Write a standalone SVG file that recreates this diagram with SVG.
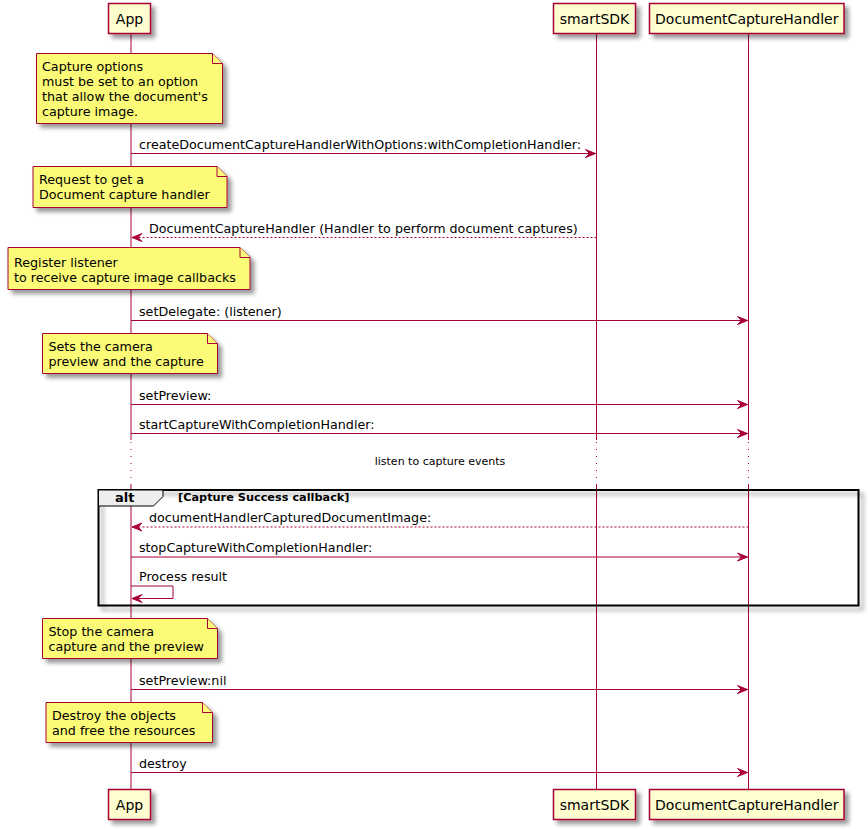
<svg xmlns="http://www.w3.org/2000/svg" width="868" height="829" viewBox="0 0 868 829">
<defs>
<filter id="sh" x="-1" y="-1" width="300%" height="300%">
<feGaussianBlur result="b" stdDeviation="2"/>
<feColorMatrix in="b" result="b2" type="matrix" values="0 0 0 0 0 0 0 0 0 0 0 0 0 0 0 0 0 0 .4 0"/>
<feOffset dx="4" dy="4" in="b2" result="b3"/>
<feBlend in="SourceGraphic" in2="b3" mode="normal"/>
</filter>
<marker id="ah" viewBox="-1 -1 12 10" refX="10" refY="4" markerWidth="12" markerHeight="10" markerUnits="userSpaceOnUse" orient="auto">
<polygon points="0,0 10,4 0,8 4,4" fill="#A80036" stroke="#A80036" stroke-width="1"/>
</marker>
</defs>
<style>
text{font-family:"DejaVu Sans",sans-serif;fill:#000}
.p rect{fill:#FEFECE;stroke:#A80036;stroke-width:1.5}
.p text{font-size:14px;text-anchor:middle}
.n path{fill:#FBFB77;stroke:#A80036;stroke-width:1}
.n text{font-size:12.7px}
.ll{stroke:#A80036;stroke-width:1;fill:none}
.dl{stroke:#A80036;stroke-width:1;stroke-dasharray:1,6;fill:none}
.m{stroke:#A80036;stroke-width:1;fill:none;marker-end:url(#ah)}
.d{stroke-dasharray:2,2}
.mt{font-size:12.7px}
</style>
<g id="lifelines">
<path class="ll" d="M131,34V440M131,485V789M596.5,34V440M596.5,485V789M748.5,34V440M748.5,485V789"/>
<path class="dl" d="M131,442V485M596.5,442V485M748.5,442V485"/>
</g>
<g id="p-app-top" class="p"><rect x="108.5" y="3.5" width="42" height="30" filter="url(#sh)"/><text x="129.5" y="23.5">App</text></g>
<g id="p-sdk-top" class="p"><rect x="553.5" y="3.5" width="82" height="30" filter="url(#sh)"/><text x="594.5" y="23.5">smartSDK</text></g>
<g id="p-dch-top" class="p"><rect x="649.5" y="3.5" width="194.5" height="30" filter="url(#sh)"/><text x="746.75" y="23.5">DocumentCaptureHandler</text></g>
<g id="p-app-bot" class="p"><rect x="108.5" y="789.5" width="42" height="30" filter="url(#sh)"/><text x="129.5" y="809.5">App</text></g>
<g id="p-sdk-bot" class="p"><rect x="553.5" y="789.5" width="82" height="30" filter="url(#sh)"/><text x="594.5" y="809.5">smartSDK</text></g>
<g id="p-dch-bot" class="p"><rect x="649.5" y="789.5" width="194.5" height="30" filter="url(#sh)"/><text x="746.75" y="809.5">DocumentCaptureHandler</text></g>

<g id="note1" class="n"><path d="M36.5,53.5V123.5H222.5V63.5L212.5,53.5Z" filter="url(#sh)"/><path d="M212.5,53.5V63.5H222.5"/>
<text x="42" y="70.5">Capture options</text><text x="42" y="85.6">must be set to an option</text><text x="42" y="100.7">that allow the document's</text><text x="42" y="115.8">capture image.</text></g>
<g id="note2" class="n"><path d="M33,166.5V207.5H227V176.5L217,166.5Z" filter="url(#sh)"/><path d="M217,166.5V176.5H227"/>
<text x="39" y="183.5">Request to get a</text><text x="39" y="198.6">Document capture handler</text></g>
<g id="note3" class="n"><path d="M8,247.5V289.5H250V257.5L240,247.5Z" filter="url(#sh)"/><path d="M240,247.5V257.5H250"/>
<text x="14" y="266.5">Register listener</text><text x="14" y="281.6">to receive capture image callbacks</text></g>
<g id="note4" class="n"><path d="M42.5,333.5V373.5H217.5V343.5L207.5,333.5Z" filter="url(#sh)"/><path d="M207.5,333.5V343.5H217.5"/>
<text x="48.5" y="350.5">Sets the camera</text><text x="48.5" y="365.6">preview and the capture</text></g>
<g id="note5" class="n"><path d="M42.5,618.5V658.5H217.5V628.5L207.5,618.5Z" filter="url(#sh)"/><path d="M207.5,618.5V628.5H217.5"/>
<text x="48.5" y="636">Stop the camera</text><text x="48.5" y="651.1">capture and the preview</text></g>
<g id="note6" class="n"><path d="M46,702.5V742.5H212.5V712.5L202.5,702.5Z" filter="url(#sh)"/><path d="M202.5,702.5V712.5H212.5"/>
<text x="52" y="719.5">Destroy the objects</text><text x="52" y="734.6">and free the resources</text></g>

<g id="alt">
<rect x="98.5" y="490" width="760" height="115.5" fill="none" stroke="#000" stroke-width="2" filter="url(#sh)"/>
<path d="M98.5,490H163V496.5L153.5,506H98.5Z" fill="#EEEEEE" stroke="#000" stroke-width="1"/>
<text x="115" y="502" font-size="13" font-weight="bold">alt</text>
<text x="178" y="501" font-size="11.3" font-weight="bold">[Capture Success callback]</text>
</g>
<text x="440" y="464.5" font-size="11" text-anchor="middle">listen to capture events</text>

<g id="connectors">
<line class="m" x1="131" y1="153.5" x2="595.5" y2="153.5"/>
<line class="m d" x1="596.5" y1="237.5" x2="132" y2="237.5"/>
<line class="m" x1="131" y1="320.5" x2="747.5" y2="320.5"/>
<line class="m" x1="131" y1="404.5" x2="747.5" y2="404.5"/>
<line class="m" x1="131" y1="433.5" x2="747.5" y2="433.5"/>
<line class="m d" x1="748.5" y1="527" x2="132" y2="527"/>
<line class="m" x1="131" y1="557" x2="747.5" y2="557"/>
<path class="m" d="M131,586H173V598.5H132"/>
<line class="m" x1="131" y1="689.5" x2="747.5" y2="689.5"/>
<line class="m" x1="131" y1="772.5" x2="747.5" y2="772.5"/>
</g>
<g id="labels">
<text class="mt" x="139" y="149">createDocumentCaptureHandlerWithOptions:withCompletionHandler:</text>
<text class="mt" x="149" y="232.5">DocumentCaptureHandler (Handler to perform document captures)</text>
<text class="mt" x="139" y="315.5">setDelegate: (listener)</text>
<text class="mt" x="139" y="399.5">setPreview:</text>
<text class="mt" x="139" y="428.5">startCaptureWithCompletionHandler:</text>
<text class="mt" x="149" y="521.5">documentHandlerCapturedDocumentImage:</text>
<text class="mt" x="139" y="551.5">stopCaptureWithCompletionHandler:</text>
<text class="mt" x="139" y="581">Process result</text>
<text class="mt" x="139" y="684.5">setPreview:nil</text>
<text class="mt" x="139" y="767.5">destroy</text>
</g>
</svg>
